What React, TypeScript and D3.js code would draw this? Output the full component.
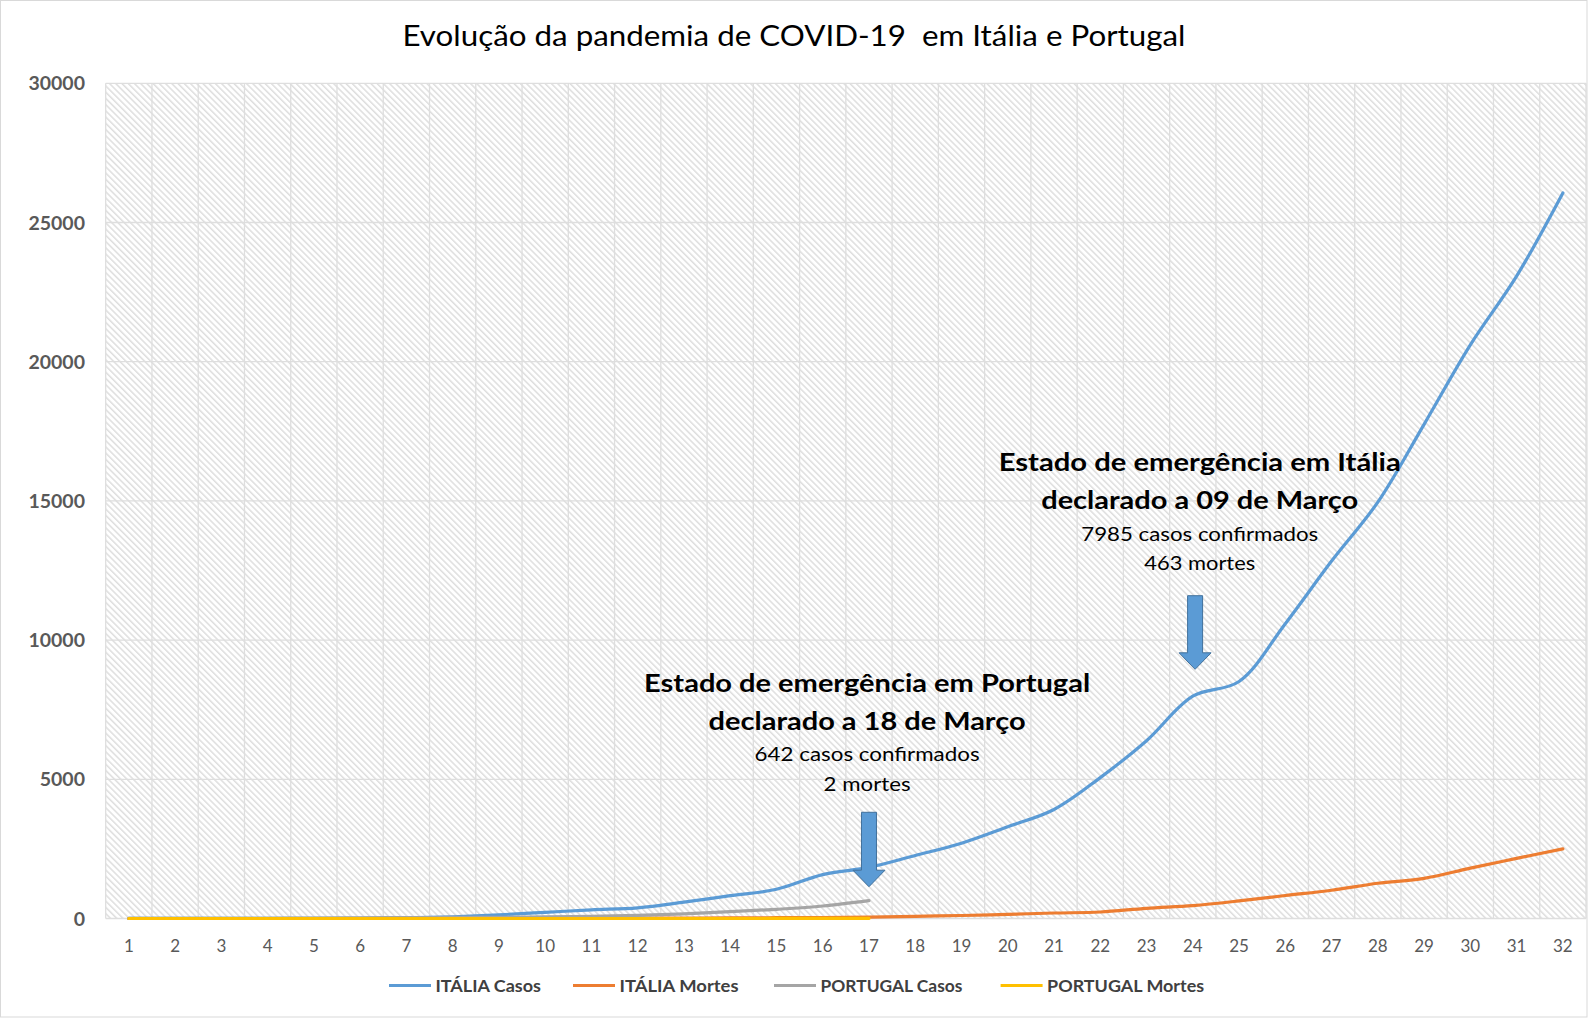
import React, {useEffect, useRef} from "react";
import * as d3 from "d3";

// day index on the x axis
const days = [
	1, 2, 3, 4, 5, 6, 7, 8, 9, 10, 11, 12, 13, 14, 15, 16,
	17, 18, 19, 20, 21, 22, 23, 24, 25, 26, 27, 28, 29, 30, 31, 32,
];

const italiaCasos = [
	3, 3, 3, 3, 3, 3, 20, 62, 132, 221, 311, 385, 588, 821, 1049, 1577,
	1835, 2263, 2706, 3296, 3916, 5061, 6387, 7985, 8514, 10590, 12839, 14955,
	17750, 20603, 23073, 26062,
];
const italiaMortes = [
	0, 0, 0, 0, 0, 0, 1, 2, 3, 7, 10, 12, 17, 21, 29, 34,
	52, 79, 107, 148, 197, 233, 366, 463, 631, 827, 1016, 1266,
	1441, 1809, 2158, 2503,
];
const portugalCasos = [
	2, 4, 6, 9, 13, 21, 30, 39, 41, 59, 78, 112, 169, 245, 331, 448, 642,
];
const portugalMortes = [0, 0, 0, 0, 0, 0, 0, 0, 0, 0, 0, 0, 0, 0, 1, 1, 2];

const yTicks = [0, 5000, 10000, 15000, 20000, 25000, 30000];

const seriesNames = ["ITÁLIA Casos", "ITÁLIA Mortes", "PORTUGAL Casos", "PORTUGAL Mortes"];
const seriesValues = [italiaCasos, italiaMortes, portugalCasos, portugalMortes];
const seriesColors = ["#5B9BD5", "#ED7D31", "#A5A5A5", "#FFC000"];

const title = "Evolução da pandemia de COVID-19  em Itália e Portugal";

// annotations: anchor day, baseline value of first line, arrow top / tip values
const notePT = ["Estado de emergência em Portugal", "declarado a 18 de Março", "642 casos confirmados", "2 mortes"];
const noteIT = ["Estado de emergência em Itália", "declarado a 09 de Março", "7985 casos confirmados", "463 mortes"];
const noteDays = [16.96, 24.15];
const noteValues = [8150, 16070];
const arrowDays = [17, 24.05];
const arrowTops = [3815, 11595];
const arrowTips = [1142, 8951];

const W = 1588;
const H = 1020;
const plot = {left: 105.7, right: 1586, top: 83.3, bottom: 918.5};
const font = "Lato, 'Open Sans', sans-serif";

const App: React.FC = () => {
	const svgRef = useRef<SVGSVGElement>(null);

	useEffect(() => {
		const svg = d3.select(svgRef.current);
		svg.selectAll("*").remove();

		const x = d3.scaleLinear().domain([0.5, days.length + 0.5]).range([plot.left, plot.right]);
		const y = d3.scaleLinear().domain([0, 30000]).range([plot.bottom, plot.top]);

		svg.append("rect").attr("width", W).attr("height", H).attr("fill", "#fff");

		// hatch pattern of the plot area
		const defs = svg.append("defs");
		const pat = defs
			.append("pattern")
			.attr("id", "hatch")
			.attr("patternUnits", "userSpaceOnUse")
			.attr("width", 4.4)
			.attr("height", 4.4)
			.attr("patternTransform", "rotate(-45)");
		pat.append("rect").attr("width", 4.4).attr("height", 4.4).attr("fill", "#fff");
		pat.append("rect").attr("width", 1.5).attr("height", 4.4).attr("fill", "#DEDEDE");

		svg
			.append("rect")
			.attr("x", plot.left)
			.attr("y", plot.top)
			.attr("width", plot.right - plot.left)
			.attr("height", plot.bottom - plot.top)
			.attr("fill", "url(#hatch)");

		// gridlines
		const grid = svg.append("g").attr("stroke", "#DEDEDE").attr("stroke-width", 1.3);
		grid
			.selectAll("line.h")
			.data(yTicks)
			.enter()
			.append("line")
			.attr("x1", plot.left)
			.attr("x2", plot.right)
			.attr("y1", (d) => y(d))
			.attr("y2", (d) => y(d));
		grid
			.selectAll("line.v")
			.data(d3.range(0, days.length + 1))
			.enter()
			.append("line")
			.attr("x1", (d) => x(d + 0.5))
			.attr("x2", (d) => x(d + 0.5))
			.attr("y1", plot.top)
			.attr("y2", plot.bottom);

		// axis labels
		svg
			.append("g")
			.selectAll("text")
			.data(yTicks)
			.enter()
			.append("text")
			.attr("x", 85)
			.attr("y", (d) => y(d) + 7)
			.attr("text-anchor", "end")
			.style("font-family", font)
			.style("font-size", "19.5px")
			.style("font-weight", "bold")
			.style("fill", "#595959")
			.text((d) => d);

		svg
			.append("g")
			.selectAll("text")
			.data(days)
			.enter()
			.append("text")
			.attr("x", (d) => x(d))
			.attr("y", 951.5)
			.attr("text-anchor", "middle")
			.style("font-family", font)
			.style("font-size", "17px")
			.style("fill", "#595959")
			.text((d) => d);

		// series
		const line = d3
			.line<number>()
			.x((_, i) => x(days[i]))
			.y((d) => y(d))
			.curve(d3.curveCatmullRom);

		seriesValues.forEach((vals, i) => {
			svg
				.append("path")
				.attr("d", line(vals))
				.attr("fill", "none")
				.attr("stroke", seriesColors[i])
				.attr("stroke-width", 3.2)
				.attr("stroke-linecap", "round")
				.attr("stroke-linejoin", "round");
		});

		// arrows
		arrowDays.forEach((d, i) => {
			const cx = x(d);
			const top = y(arrowTops[i]);
			const tip = y(arrowTips[i]);
			const headTop = tip - 16.5;
			const sw = 7.5;
			const hw = 16;
			const pts = [
				[cx - sw, top],
				[cx + sw, top],
				[cx + sw, headTop],
				[cx + hw, headTop],
				[cx, tip],
				[cx - hw, headTop],
				[cx - sw, headTop],
			];
			svg
				.append("path")
				.attr("d", "M" + pts.map((p) => p.join(",")).join("L") + "Z")
				.attr("fill", "#5B9BD5")
				.attr("stroke", "#41719C")
				.attr("stroke-width", 1);
		});

		// annotation texts
		const offsets = [0, 38, 69.5, 99];
		const widthsPT = [446, 317, 225, 87];
		const widthsIT = [402, 317, 237, 111];
		[notePT, noteIT].forEach((lines, k) => {
			const cx = x(noteDays[k]);
			const by = y(noteValues[k]);
			const widths = k === 0 ? widthsPT : widthsIT;
			lines.forEach((t, j) => {
				svg
					.append("text")
					.attr("x", cx)
					.attr("y", by + offsets[j])
					.attr("text-anchor", "middle")
					.attr("textLength", widths[j])
					.attr("lengthAdjust", "spacingAndGlyphs")
					.style("font-family", font)
					.style("font-size", j < 2 ? "25px" : "19.5px")
					.style("font-weight", j < 2 ? "bold" : "normal")
					.style("fill", "#000")
					.text(t);
			});
		});

		// title
		svg
			.append("text")
			.attr("x", W / 2)
			.attr("y", 46)
			.attr("text-anchor", "middle")
			.attr("textLength", 783)
			.attr("lengthAdjust", "spacingAndGlyphs")
			.style("white-space", "pre")
			.style("font-family", font)
			.style("font-size", "28.5px")
			.style("fill", "#000")
			.text(title);

		// legend
		const legendX = [389, 573, 774, 1000.6];
		const legendW = [105.5, 119, 142, 157];
		const legend = svg.append("g").attr("transform", "translate(0, 985.5)");
		seriesNames.forEach((name, i) => {
			legend
				.append("line")
				.attr("x1", legendX[i])
				.attr("x2", legendX[i] + 42)
				.attr("stroke", seriesColors[i])
				.attr("stroke-width", 3.2);
			legend
				.append("text")
				.attr("x", legendX[i] + 46.5)
				.attr("y", 6.5)
				.attr("textLength", legendW[i])
				.attr("lengthAdjust", "spacingAndGlyphs")
				.style("font-family", font)
				.style("font-size", "17.5px")
				.style("font-weight", "bold")
				.style("fill", "#404040")
				.text(name);
		});

		// chart frame
		svg
			.append("rect")
			.attr("x", 0.5)
			.attr("y", 0.5)
			.attr("width", 1586.5)
			.attr("height", 1016.5)
			.attr("fill", "none")
			.attr("stroke", "#D9D9D9")
			.attr("stroke-width", 1);
	}, []);

	return (
		<div style={{position: "absolute", left: 0, top: 0}}>
			<svg ref={svgRef} width={W} height={H} style={{display: "block"}} />
		</div>
	);
};

export default App;
